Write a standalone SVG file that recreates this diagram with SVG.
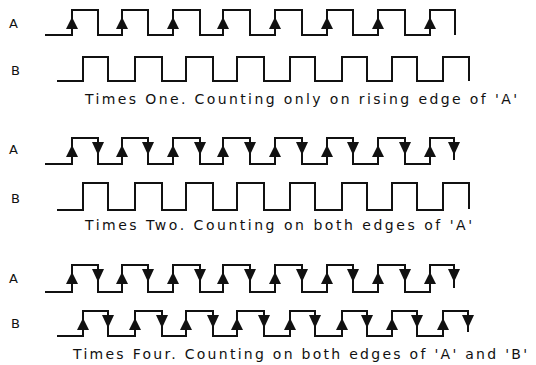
<svg xmlns="http://www.w3.org/2000/svg" xmlns:xlink="http://www.w3.org/1999/xlink" width="536" height="365" viewBox="0 0 536 365">
<style>
.w{fill:none;stroke:#111;stroke-width:2;stroke-linejoin:miter;stroke-linecap:butt}
.ar{fill:#111;stroke:none}
.lbl{font-family:"DejaVu Sans","Liberation Sans",sans-serif;font-size:13px;fill:#111}
.cap{font-family:"DejaVu Sans","Liberation Sans",sans-serif;font-size:14px;fill:#111}
</style>
<defs>
<path id="up" class="ar" d="M0,0 L-6,12 L6,12 Z"/>
<path id="dn" class="ar" d="M-6,0 L6,0 L0,13 Z"/>
</defs>
<rect width="536" height="365" fill="#fff"/>

<g id="x1">
<text class="lbl" x="9" y="28">A</text>
<text class="lbl" x="11" y="75">B</text>
<g id="x1-A">
<path class="w" d="M45,35 H72 V10 H98 V35 H122 V10 H148 V35 H173 V10 H200 V35 H223 V10 H250 V35 H275 V10 H302 V35 H327 V10 H353 V35 H378 V10 H405 V35 H430 V10 H455 V35"/>
<use xlink:href="#up" x="72" y="17"/><use xlink:href="#up" x="122" y="17"/><use xlink:href="#up" x="173" y="17"/><use xlink:href="#up" x="223" y="17"/>
<use xlink:href="#up" x="275" y="17"/><use xlink:href="#up" x="327" y="17"/><use xlink:href="#up" x="378" y="17"/><use xlink:href="#up" x="430" y="17"/>
</g>
<g id="x1-B">
<path class="w" d="M57,81 H83 V57 H108 V81 H135 V57 H162 V81 H186 V57 H213 V81 H237 V57 H264 V81 H290 V57 H315 V81 H342 V57 H367 V81 H392 V57 H417 V81 H443 V57 H469 V81"/>
</g>
<text class="cap" x="85" y="104" textLength="432" lengthAdjust="spacing">Times One. Counting only on rising edge of 'A'</text>
</g>

<g id="x2">
<text class="lbl" x="9" y="154">A</text>
<text class="lbl" x="11" y="203">B</text>
<g id="x2-A">
<path class="w" d="M45,164 H72 V138 H98 V164 H122 V138 H148 V164 H173 V138 H200 V164 H223 V138 H250 V164 H275 V138 H302 V164 H327 V138 H353 V164 H378 V138 H405 V164 H430 V138 H454 V160"/>
<use xlink:href="#up" x="72" y="145"/><use xlink:href="#up" x="122" y="145"/><use xlink:href="#up" x="173" y="145"/><use xlink:href="#up" x="223" y="145"/>
<use xlink:href="#up" x="275" y="145"/><use xlink:href="#up" x="327" y="145"/><use xlink:href="#up" x="378" y="145"/><use xlink:href="#up" x="430" y="145"/>
<use xlink:href="#dn" x="98" y="142"/><use xlink:href="#dn" x="148" y="142"/><use xlink:href="#dn" x="200" y="142"/><use xlink:href="#dn" x="250" y="142"/>
<use xlink:href="#dn" x="302" y="142"/><use xlink:href="#dn" x="353" y="142"/><use xlink:href="#dn" x="405" y="142"/><use xlink:href="#dn" x="454" y="142"/>
</g>
<g id="x2-B">
<path class="w" d="M57,210 H83 V183 H108 V210 H135 V183 H162 V210 H186 V183 H213 V210 H237 V183 H264 V210 H290 V183 H315 V210 H342 V183 H367 V210 H392 V183 H417 V210 H443 V183 H469 V209"/>
</g>
<text class="cap" x="85" y="230" textLength="387" lengthAdjust="spacing">Times Two. Counting on both edges of 'A'</text>
</g>

<g id="x4">
<text class="lbl" x="9" y="283">A</text>
<text class="lbl" x="11" y="328">B</text>
<g id="x4-A">
<path class="w" d="M45,292 H72 V265 H98 V292 H122 V265 H148 V292 H173 V265 H200 V292 H223 V265 H250 V292 H275 V265 H302 V292 H327 V265 H353 V292 H378 V265 H405 V292 H430 V265 H454 V288"/>
<use xlink:href="#up" x="72" y="272"/><use xlink:href="#up" x="122" y="272"/><use xlink:href="#up" x="173" y="272"/><use xlink:href="#up" x="223" y="272"/>
<use xlink:href="#up" x="275" y="272"/><use xlink:href="#up" x="327" y="272"/><use xlink:href="#up" x="378" y="272"/><use xlink:href="#up" x="430" y="272"/>
<use xlink:href="#dn" x="98" y="269"/><use xlink:href="#dn" x="148" y="269"/><use xlink:href="#dn" x="200" y="269"/><use xlink:href="#dn" x="250" y="269"/>
<use xlink:href="#dn" x="302" y="269"/><use xlink:href="#dn" x="353" y="269"/><use xlink:href="#dn" x="405" y="269"/><use xlink:href="#dn" x="454" y="269"/>
</g>
<g id="x4-B">
<path class="w" d="M57,336 H83 V311 H108 V336 H135 V311 H162 V336 H186 V311 H213 V336 H237 V311 H264 V336 H290 V311 H315 V336 H342 V311 H367 V336 H392 V311 H417 V336 H443 V311 H468 V332"/>
<use xlink:href="#up" x="83" y="318"/><use xlink:href="#up" x="135" y="318"/><use xlink:href="#up" x="186" y="318"/><use xlink:href="#up" x="237" y="318"/>
<use xlink:href="#up" x="290" y="318"/><use xlink:href="#up" x="342" y="318"/><use xlink:href="#up" x="392" y="318"/><use xlink:href="#up" x="443" y="318"/>
<use xlink:href="#dn" x="108" y="315"/><use xlink:href="#dn" x="162" y="315"/><use xlink:href="#dn" x="213" y="315"/><use xlink:href="#dn" x="264" y="315"/>
<use xlink:href="#dn" x="315" y="315"/><use xlink:href="#dn" x="367" y="315"/><use xlink:href="#dn" x="417" y="315"/><use xlink:href="#dn" x="468" y="315"/>
</g>
<text class="cap" x="73" y="359" textLength="454" lengthAdjust="spacing">Times Four. Counting on both edges of 'A' and 'B'</text>
</g>
</svg>
